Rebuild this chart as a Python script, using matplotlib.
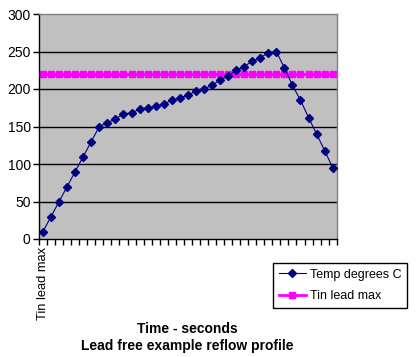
import matplotlib
matplotlib.use("Agg")
import matplotlib.pyplot as plt
import numpy as np

temps = [10, 30, 50, 70, 90, 110, 130, 150, 155, 160, 167, 168, 173, 175, 177, 180,
         185, 188, 192, 197, 200, 205, 212, 217, 225, 230, 237, 242, 248, 250,
         228, 205, 185, 162, 140, 118, 95]
tin_lead_max = [220] * len(temps)
first_label = "Tin lead max"
yticks = [0, 50, 100, 150, 200, 250, 300]

plt.rcParams['font.family'] = ['Liberation Sans', 'DejaVu Sans']

fig = plt.figure(figsize=(4.17, 3.57), dpi=100)
ax = fig.add_axes([39/417, 1-239/357, (336.7-39)/417, (239-14)/357])
ax.set_facecolor('#C0C0C0')

x = np.arange(len(temps))
ax.set_xlim(-0.5, len(temps) - 0.5)
ax.set_ylim(0, 300)

for y in yticks[1:-1]:
    ax.axhline(y, color='black', lw=1, zorder=1)

ax.plot(x, tin_lead_max, color='#FF00FF', lw=2, marker='s', ms=4.5,
        mec='#FF00FF', mfc='#FF00FF', label='Tin lead max', zorder=2)
ax.plot(x, temps, color='#000080', lw=0.8, marker='D', ms=3.8,
        mec='#000080', mfc='#000080', label='Temp degrees C', zorder=3)

ax.set_yticks(yticks)
ax.set_yticklabels([str(v) for v in yticks], fontsize=10)
ax.tick_params(axis='y', direction='out', length=4, width=1, pad=2)

ax.set_xticks([0])
ax.set_xticklabels([first_label], rotation=90, fontsize=9.3, va='top')
ax.tick_params(axis='x', which='major', length=0, pad=6)
ax.set_xticks(np.arange(-0.5, len(temps)), minor=True)
ax.tick_params(axis='x', which='minor', direction='out', length=4, width=1)

for s in ['left', 'bottom']:
    ax.spines[s].set_color('black')
    ax.spines[s].set_linewidth(1)
for s in ['top', 'right']:
    ax.spines[s].set_color('#808080')
    ax.spines[s].set_linewidth(1)

h, l = ax.get_legend_handles_labels()
leg = fig.legend(h[::-1], l[::-1], loc='upper left',
                 bbox_to_anchor=(273/417, 1-263/357), borderaxespad=0,
                 fancybox=False, edgecolor='black', framealpha=1, fontsize=9,
                 handlelength=2.2, handletextpad=0.3, borderpad=0.45,
                 labelspacing=0.75)
leg.get_frame().set_linewidth(1)

fig.text(187/417, 1-329/357, "Time - seconds", ha='center', va='center',
         fontsize=10, fontweight='bold')
fig.text(187/417, 1-346/357, "Lead free example reflow profile", ha='center',
         va='center', fontsize=10, fontweight='bold')

fig.savefig('out.png', dpi=100)
